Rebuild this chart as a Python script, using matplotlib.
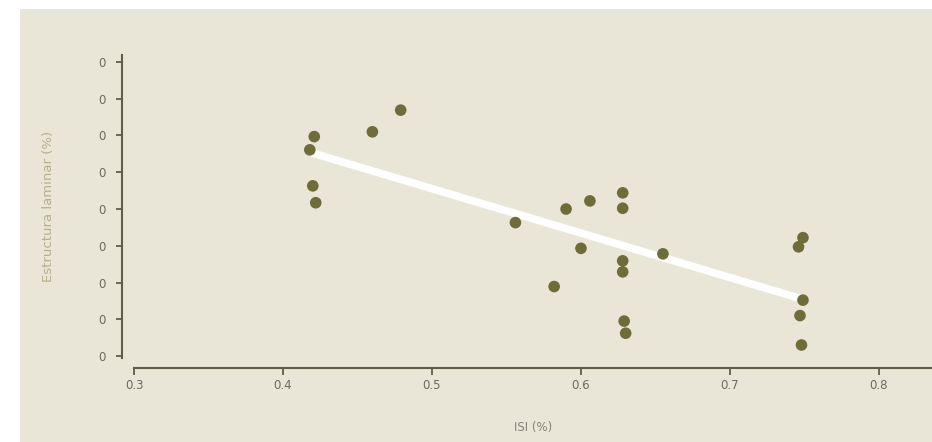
import numpy as np
import matplotlib
matplotlib.use('Agg')
import matplotlib.pyplot as plt

# ISI (%) vs Estructura laminar (%)
isi = [0.421, 0.418, 0.420, 0.422, 0.460, 0.479, 0.556, 0.590, 0.606,
       0.628, 0.628, 0.600, 0.628, 0.628, 0.655, 0.582, 0.629, 0.630,
       0.749, 0.746, 0.749, 0.747, 0.748]
estructura = [5.97, 5.61, 4.63, 4.17, 6.10, 6.69, 3.63, 4.00, 4.22,
              4.44, 4.02, 2.93, 2.59, 2.29, 2.78, 1.89, 0.95, 0.62,
              3.22, 2.97, 1.52, 1.10, 0.30]

# trend line end points
fit_x = [0.420, 0.746]
fit_y = [5.52, 1.58]

yticks = [0, 1, 2, 3, 4, 5, 6, 7, 8]
ytick_labels = ['0'] * 9
xticks = [0.3, 0.4, 0.5, 0.6, 0.7, 0.8]
xtick_labels = ['0.3', '0.4', '0.5', '0.6', '0.7', '0.8']

bg = '#e9e6d8'
dot = '#6e6d3a'
axis_col = '#5f5e48'

fig = plt.figure(figsize=(9.32, 4.42), dpi=100, facecolor='white')

# beige panel behind the chart
bg_ax = fig.add_axes([20 / 932, 0, 1 - 20 / 932, 1 - 9 / 442], zorder=-1)
bg_ax.set_facecolor(bg)
bg_ax.set_xticks([])
bg_ax.set_yticks([])
for s in bg_ax.spines.values():
    s.set_visible(False)

ax = fig.add_axes([134 / 932, 84 / 442, 1 - 134 / 932, 303 / 442])
ax.set_facecolor('none')

ax.plot(fit_x, fit_y, color='white', lw=5.5, solid_capstyle='round', zorder=2)
ax.scatter(isi, estructura, s=70, color=dot, edgecolors='none', zorder=3)

ax.set_xlim(0.3, 0.8356)
ax.set_ylim(-0.054, 8.19)

for side in ['top', 'right']:
    ax.spines[side].set_visible(False)
ax.spines['left'].set_position(('outward', 8.6))
ax.spines['bottom'].set_position(('outward', 7.2))
for side in ['left', 'bottom']:
    ax.spines[side].set_color(axis_col)
    ax.spines[side].set_linewidth(1.5)

ax.set_yticks(yticks)
ax.set_yticklabels(ytick_labels)
ax.set_xticks(xticks)
ax.set_xticklabels(xtick_labels)
ax.tick_params(axis='y', length=4, width=1.3, color=axis_col, pad=8,
               labelsize=8.5, labelcolor='#6a6a62')
ax.tick_params(axis='x', length=5, width=1.3, color=axis_col, pad=3,
               labelsize=8.5, labelcolor='#6a6a62')

ax.set_xlabel('ISI (%)', fontsize=8.5, color='#85847a', labelpad=21)
ax.set_ylabel('Estructura laminar (%)', fontsize=9.5, color='#b3b18a', labelpad=31)

fig.savefig('out.png', dpi=100, facecolor='white')
